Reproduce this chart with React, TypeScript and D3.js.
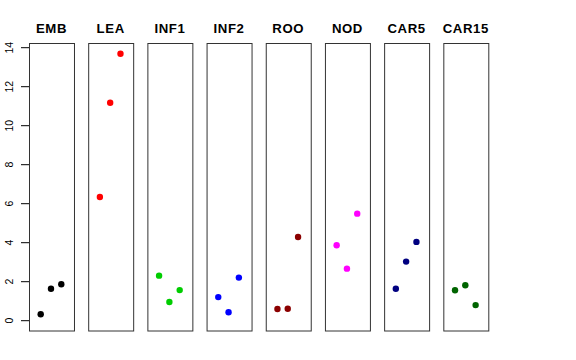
import * as d3 from "d3"

// tissues, one panel each
const tissues = ["EMB", "LEA", "INF1", "INF2", "ROO", "NOD", "CAR5", "CAR15"]
const colors = ["#000000", "#FF0000", "#00CD00", "#0000FF", "#8B0000", "#FF00FF", "#000080", "#006400"]

// three replicates per tissue
const rep1 = [0.33, 6.34, 2.31, 1.21, 0.6, 3.87, 1.64, 1.56]
const rep2 = [1.64, 11.18, 0.96, 0.43, 0.61, 2.67, 3.03, 1.82]
const rep3 = [1.87, 13.69, 1.57, 2.21, 4.29, 5.49, 4.04, 0.8]

const yTicks = [0, 2, 4, 6, 8, 10, 12, 14]

const width = 576
const height = 360

const App = () => {
  const x = d3.scaleBand<string>().domain(tissues).range([29, 488.3]).paddingInner(0.24).paddingOuter(0)
  const y = d3.scaleLinear().domain([0, 14]).range([320.7, 47.7])
  const bw = x.bandwidth()
  const px = d3.scalePoint<number>().domain([0, 1, 2]).range([11.7, 32.3])
  const reps = [rep1, rep2, rep3]

  return (
    <svg
      width={width}
      height={height}
      style={{ position: "absolute", left: 0, top: 0, display: "block", fontFamily: "'Liberation Sans', Arial, sans-serif" }}
    >
      <rect width={width} height={height} fill="#fff" />

      {/* y axis, labels turned like R's default */}
      {yTicks.map((t) => (
        <g key={t}>
          <line x1={21} x2={29} y1={y(t)} y2={y(t)} stroke="#000" />
          <g transform={`translate(12.5,${y(t)})`}>
            <text transform="rotate(-90)" textAnchor="middle" fontSize={10.5} fill="#000">
              {t}
            </text>
          </g>
        </g>
      ))}

      {tissues.map((t, i) => {
        const x0 = x(t) as number
        return (
          <g key={t}>
            <text x={x0 + bw / 2} y={33} textAnchor="middle" fontSize={13.2} fontWeight="bold" letterSpacing={0.6}>
              {t}
            </text>
            <rect x={x0 + 0.5} y={43.5} width={bw} height={287.5} fill="none" stroke="#333" strokeWidth={1} />
            {reps.map((r, j) => (
              <circle key={j} cx={x0 + (px(j) as number)} cy={y(r[i])} r={3.2} fill={colors[i]} />
            ))}
          </g>
        )
      })}
    </svg>
  )
}

export default App
